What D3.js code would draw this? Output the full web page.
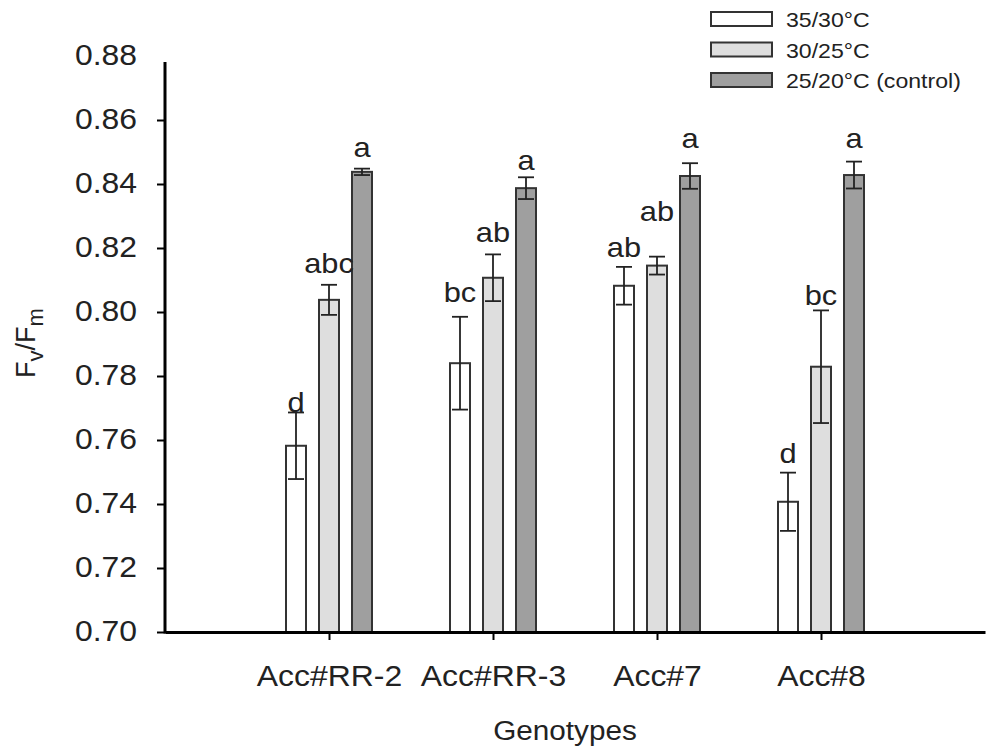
<!DOCTYPE html>
<html>
<head>
<meta charset="utf-8">
<script src="https://cdn.jsdelivr.net/npm/d3@7"></script>
<style>
  body { margin: 0; background: #fff; }
  text { font-family: "Liberation Sans", Arial, sans-serif; fill: #222; }
</style>
</head>
<body>
<script>
// Chart data

var genotypes = ["Acc#RR-2", "Acc#RR-3", "Acc#7", "Acc#8"];
var seriesNames = ["35/30°C", "30/25°C", "25/20°C (control)"];

// Fv/Fm means per genotype
var hotMeans  = [0.7582, 0.7840, 0.8082, 0.7407];
var midMeans  = [0.8038, 0.8107, 0.8145, 0.7829];
var ctrlMeans = [0.8438, 0.8387, 0.8425, 0.8428];

// standard errors
var hotErr  = [0.0104, 0.0145, 0.0059, 0.0091];
var midErr  = [0.0047, 0.0073, 0.0028, 0.0176];
var ctrlErr = [0.0010, 0.0034, 0.0040, 0.0042];

// significance letters and the height (in Fv/Fm units) they sit at
var hotLetters  = ["d", "bc", "ab", "d"];
var midLetters  = ["abc", "ab", "ab", "bc"];
var ctrlLetters = ["a", "a", "a", "a"];
var hotLetterAt  = [0.7687, 0.8032, 0.8173, 0.7527];
var midLetterAt  = [0.8122, 0.8218, 0.8284, 0.8022];
var ctrlLetterAt = [0.8485, 0.8444, 0.8512, 0.8513];

var yTicks = [0.70, 0.72, 0.74, 0.76, 0.78, 0.80, 0.82, 0.84, 0.86, 0.88];

var fills = ["#ffffff", "#dedede", "#9f9f9f"];
var barStroke = "#333";

// build rows for drawing
var means = [hotMeans, midMeans, ctrlMeans];
var errs = [hotErr, midErr, ctrlErr];
var letters = [hotLetters, midLetters, ctrlLetters];
var letterAt = [hotLetterAt, midLetterAt, ctrlLetterAt];

var rows = [];
genotypes.forEach(function (g, gi) {
    seriesNames.forEach(function (s, si) {
        rows.push({
            group: gi + 1,
            series: s,
            si: si,
            mean: means[si][gi],
            err: errs[si][gi],
            letter: letters[si][gi],
            letterY: letterAt[si][gi]
        });
    });
});

var width = 990, height = 749;

var svg = d3.select("body")
    .append("svg")
    .attr("width", width)
    .attr("height", height);

// scales
var x = d3.scaleLinear().domain([0, 5]).range([165, 985]);
var y = d3.scaleLinear().domain([0.70, 0.88]).range([632, 56]);
var offset = d3.scalePoint().domain(seriesNames).range([-33, 33]);
var barW = 20;

// bars
svg.selectAll("rect.bar")
    .data(rows)
    .enter()
    .append("rect")
    .attr("class", "bar")
    .attr("x", function (d) { return x(d.group) + offset(d.series) - barW / 2; })
    .attr("y", function (d) { return y(d.mean); })
    .attr("width", barW)
    .attr("height", function (d) { return y(0.70) - y(d.mean); })
    .style("fill", function (d) { return fills[d.si]; })
    .style("stroke", barStroke)
    .style("stroke-width", 2);

// error bars
var eb = svg.selectAll("g.err")
    .data(rows)
    .enter()
    .append("g")
    .attr("class", "err")
    .attr("transform", function (d) { return "translate(" + (x(d.group) + offset(d.series)) + ",0)"; })
    .style("stroke", "#222")
    .style("stroke-width", 1.8);

eb.append("line")
    .attr("y1", function (d) { return y(d.mean + d.err); })
    .attr("y2", function (d) { return y(d.mean - d.err); });
eb.append("line")
    .attr("x1", -8).attr("x2", 8)
    .attr("y1", function (d) { return y(d.mean + d.err); })
    .attr("y2", function (d) { return y(d.mean + d.err); });
eb.append("line")
    .attr("x1", -8).attr("x2", 8)
    .attr("y1", function (d) { return y(d.mean - d.err); })
    .attr("y2", function (d) { return y(d.mean - d.err); });

// letters
svg.selectAll("text.letter")
    .data(rows)
    .enter()
    .append("text")
    .attr("class", "letter stretch")
    .attr("x", function (d) { return x(d.group) + offset(d.series); })
    .attr("y", function (d) { return y(d.letterY); })
    .attr("text-anchor", "middle")
    .style("font-size", "28px")
    .text(function (d) { return d.letter; });

// y axis
var yAxis = svg.append("g")
    .attr("transform", "translate(" + x(0) + ",0)")
    .call(d3.axisLeft(y)
        .tickValues(yTicks)
        .tickFormat(d3.format(".2f"))
        .tickSize(8)
        .tickSizeOuter(0)
        .tickPadding(20));
yAxis.select(".domain")
    .attr("d", "M0," + (y(0.88) + 6) + "V" + (y(0.70) + 1.5))
    .style("stroke", "#000")
    .style("stroke-width", 3);
yAxis.selectAll(".tick line").style("stroke", "#000").style("stroke-width", 2);
yAxis.selectAll(".tick").filter(function (d) { return d === 0.88; }).select("line").remove();
yAxis.selectAll(".tick text")
    .attr("class", "stretch")
    .attr("dy", "0.3em")
    .style("font-size", "29px")
    .style("fill", "#222");

// x axis
var xAxis = svg.append("g")
    .attr("transform", "translate(0," + y(0.70) + ")")
    .call(d3.axisBottom(x)
        .tickValues([1, 2, 3, 4])
        .tickFormat(function (i) { return genotypes[i - 1]; })
        .tickSize(8)
        .tickSizeOuter(0));
xAxis.select(".domain").style("stroke", "#000").style("stroke-width", 3);
xAxis.selectAll(".tick line").style("stroke", "#000").style("stroke-width", 2);
xAxis.selectAll(".tick text")
    .attr("class", "stretch")
    .attr("y", 54)
    .attr("dy", 0)
    .style("font-size", "29px")
    .style("fill", "#222");

// axis titles
svg.append("text")
    .attr("class", "stretch")
    .attr("x", 565)
    .attr("y", 740)
    .attr("text-anchor", "middle")
    .style("font-size", "27px")
    .text("Genotypes");

var ylab = svg.append("text")
    .attr("transform", "translate(35,343) rotate(-90)")
    .attr("text-anchor", "middle")
    .style("font-size", "27px");
ylab.append("tspan").text("F");
ylab.append("tspan").attr("dy", 8).style("font-size", "22px").text("v");
ylab.append("tspan").attr("dy", -8).text("/F");
ylab.append("tspan").attr("dy", 8).style("font-size", "22px").text("m");

// legend
var legend = svg.append("g");
var legRow = d3.scaleLinear().domain([0, 2]).range([12, 73]);
seriesNames.forEach(function (s, i) {
    legend.append("rect")
        .attr("x", 711)
        .attr("y", legRow(i))
        .attr("width", 61)
        .attr("height", 14)
        .style("fill", fills[i])
        .style("stroke", barStroke)
        .style("stroke-width", 2);
    legend.append("text")
        .attr("class", "stretch")
        .attr("x", 786)
        .attr("y", legRow(i) + 15)
        .style("font-size", "21px")
        .text(s);
});

// the figure text is a bit wider than the font's natural width
svg.selectAll("text.stretch").each(function () {
    var len = this.getComputedTextLength();
    d3.select(this)
        .attr("textLength", len * 1.1)
        .attr("lengthAdjust", "spacingAndGlyphs");
});
</script>
</body>
</html>
